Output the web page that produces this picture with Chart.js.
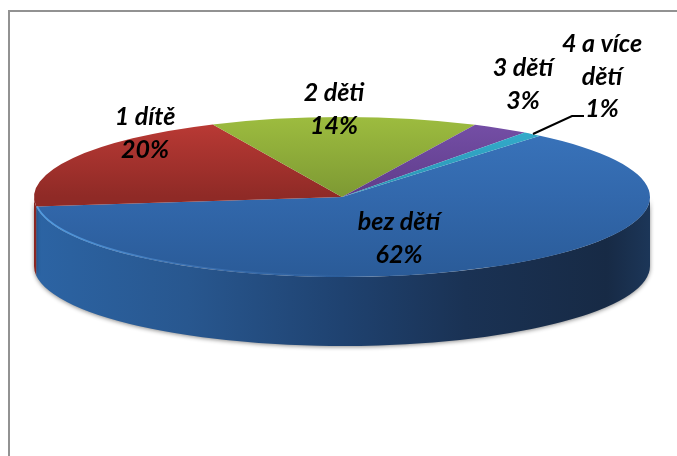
<!DOCTYPE html>
<html>
<head>
<meta charset="utf-8">
<style>
html, body { margin: 0; padding: 0; background: #fff; overflow: hidden; }
#frame { position: absolute; left: 8px; top: 10px; width: 669px; height: 446px; border-left: 2px solid #929292; border-top: 2px solid #929292; box-sizing: border-box; }
#pieChart { position: absolute; left: 0; top: 0; }
</style>
</head>
<body>
<div id="frame"></div>
<canvas id="pieChart" width="677" height="456"></canvas>
<script src="https://cdn.jsdelivr.net/npm/chart.js@4"></script>
<script>
var categories = ['bez dětí', '1 dítě', '2 děti', '3 dětí', '4 a více dětí'];
var values = [62, 20, 14, 3, 1];
var labelLines = [['bez dětí'], ['1 dítě'], ['2 děti'], ['3 dětí'], ['4 a více', 'dětí']];

// where the flattened pie sits on the page
var pie = { x: 342, y: 197, rx: 308, ry: 80, depth: 69 };
var labelPos = [[399, 222], [145, 117], [334, 93], [523, 68], [602, 44]];

var ctx = document.getElementById('pieChart').getContext('2d');

function vertical(c0, c1, c2) {
    var g = ctx.createLinearGradient(0, 0, 0, 456);
    g.addColorStop(0, c0);
    g.addColorStop(0.5, c1);
    g.addColorStop(1, c2);
    return g;
}

var wallBlue = ctx.createLinearGradient(34, 0, 650, 0);
wallBlue.addColorStop(0, '#2c64a4');
wallBlue.addColorStop(0.25, '#28578f');
wallBlue.addColorStop(0.5, '#1f4270');
wallBlue.addColorStop(0.7, '#1a3254');
wallBlue.addColorStop(0.93, '#172a45');
wallBlue.addColorStop(1, '#1c3658');

var sliceColors = [
    vertical('#3a75bd', '#3268ac', '#2a5b98'),
    vertical('#bd3b36', '#8f2a26', '#8f2a26'),
    vertical('#9dbc3f', '#7d9933', '#7d9933'),
    vertical('#7650a8', '#5f3c8a', '#5f3c8a'),
    vertical('#35b0cf', '#2a93b3', '#2a93b3')
];
var wallColors = [wallBlue, '#8b2622', '#6d852c', '#4f3274', '#23809c'];

var flatPie = {
    id: 'flatPie',
    beforeDatasetsDraw: function (chart) {
        var c = chart.ctx;
        var arcs = chart.getDatasetMeta(0).data;
        c.save();
        arcs.forEach(function (arc, i) {
            // only the part of a slice that faces the viewer has a wall
            var a = arc.startAngle, b = arc.endAngle;
            var from = Math.max(a, 0), to = Math.min(b, Math.PI);
            if (to <= from) return;
            c.save();
            c.shadowColor = 'rgba(0,0,0,0.45)';
            c.shadowBlur = 4;
            c.shadowOffsetY = 1;
            c.fillStyle = wallColors[i];
            c.beginPath();
            c.ellipse(pie.x, pie.y, pie.rx, pie.ry, 0, from, to);
            c.ellipse(pie.x, pie.y + pie.depth, pie.rx, pie.ry, 0, to, from, true);
            c.closePath();
            c.fill();
            c.restore();
        });
        var first = arcs[0];
        c.translate(pie.x, pie.y);
        c.scale(pie.rx / first.outerRadius, pie.ry / first.outerRadius);
        c.translate(-first.x, -first.y);
    },
    afterDatasetsDraw: function (chart) {
        var c = chart.ctx;
        c.restore();
        // pale rim on the front left edge of the big slice
        var rim = c.createLinearGradient(38, 0, 370, 0);
        rim.addColorStop(0, 'rgba(90,170,240,0.8)');
        rim.addColorStop(0.5, 'rgba(90,150,220,0.35)');
        rim.addColorStop(1, 'rgba(90,150,220,0)');
        c.strokeStyle = rim;
        c.lineWidth = 1.5;
        c.beginPath();
        c.ellipse(pie.x, pie.y, pie.rx - 1, pie.ry - 1, 0, Math.PI / 2 - 0.1, chart.getDatasetMeta(0).data[0].endAngle);
        c.stroke();
    },
    afterDraw: function (chart) {
        var c = chart.ctx;
        c.save();
        // leader line of the smallest slice
        c.strokeStyle = '#000';
        c.lineWidth = 2;
        c.beginPath();
        c.moveTo(533, 134);
        c.lineTo(572, 116);
        c.lineTo(584, 116);
        c.stroke();
        c.fillStyle = '#000';
        c.font = 'italic bold 25px Lato';
        c.textAlign = 'center';
        c.textBaseline = 'middle';
        labelLines.forEach(function (lines, i) {
            var rows = lines.concat([values[i] + '%']);
            rows.forEach(function (row, r) {
                c.fillText(row, labelPos[i][0], labelPos[i][1] + r * 32.5);
            });
        });
        c.restore();
    }
};

var pieChart = new Chart(ctx, {
    type: 'pie',
    data: {
        labels: categories,
        datasets: [{
            data: values,
            backgroundColor: sliceColors,
            borderWidth: 0,
            clip: false
        }]
    },
    options: {
        responsive: false,
        animation: false,
        rotation: 40,
        plugins: {
            legend: { display: false },
            tooltip: { enabled: false }
        }
    },
    plugins: [flatPie]
});
</script>
</body>
</html>
